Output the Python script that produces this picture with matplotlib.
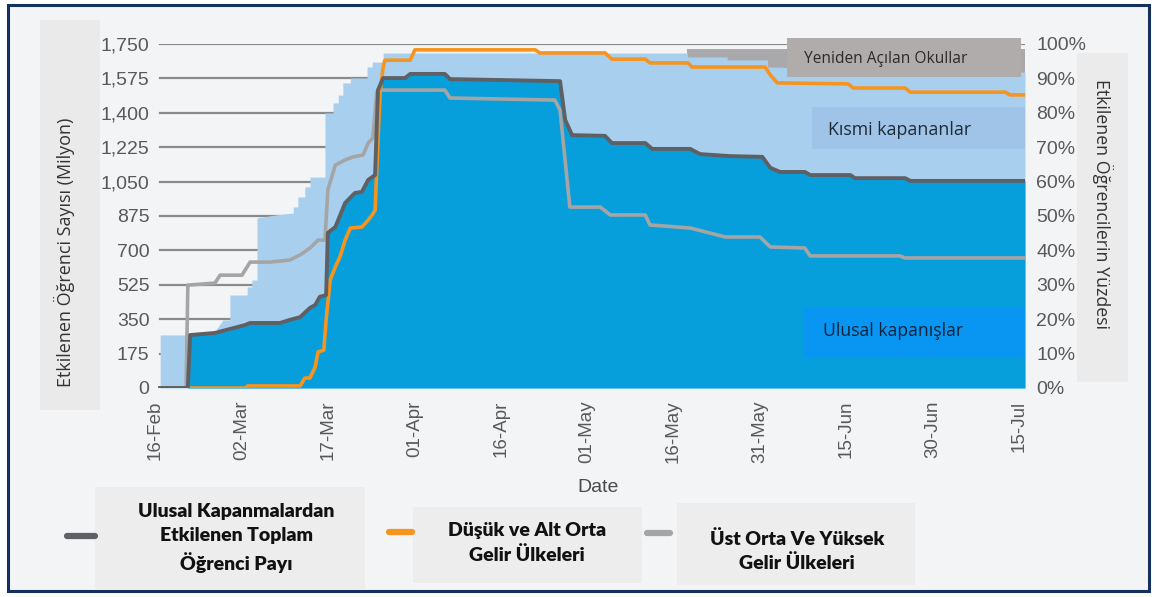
import matplotlib
matplotlib.use("Agg")
import matplotlib.pyplot as plt
from matplotlib.patches import Rectangle
from matplotlib.lines import Line2D

# ---------------- data (x = days since 16 Feb 2020) ----------------
tick_days = [0, 15, 30, 45, 60, 75, 90, 105, 120, 135, 150]
tick_labels = ["16-Feb", "02-Mar", "17-Mar", "01-Apr", "16-Apr", "01-May",
               "16-May", "31-May", "15-Jun", "30-Jun", "15-Jul"]
left_ticks = [0, 175, 350, 525, 700, 875, 1050, 1225, 1400, 1575, 1750]
right_ticks = [0, 10, 20, 30, 40, 50, 60, 70, 80, 90, 100]

# National closures: share (%) line and learners (millions) area
national_days = [0.9, 5.7, 6.1, 10.4, 15.6, 16.5, 21.7, 23.4, 25.2, 26.9, 27.8, 28.6,
                 29.7, 30.0, 31.3, 33.0, 34.7, 35.9, 37.0, 38.2, 38.7, 39.6, 43.4, 44.3,
                 50.3, 51.2, 70.3, 71.2, 72.4, 78.1, 79.3, 85.1, 86.3, 92.9, 94.6, 99.8,
                 105.4, 106.8, 108.5, 112.8, 113.7, 120.7, 121.5, 130.2, 131.1, 151.0]
national_pct = [0, 0, 15.4, 16.0, 18.3, 18.9, 18.9, 19.8, 20.6, 23.3, 24.1, 26.5,
                27.0, 45.1, 46.8, 53.8, 56.7, 57.0, 60.5, 61.9, 86.6, 90.1, 90.1, 91.3,
                91.3, 89.8, 89.2, 77.9, 73.5, 73.3, 71.2, 71.2, 69.5, 69.5, 68.0, 67.4,
                67.2, 64.0, 62.8, 62.8, 61.9, 61.9, 61.0, 61.0, 60.2, 60.2]
national_m = [0, 0, 270, 280, 320, 331, 331, 347, 361, 408, 422, 464,
              473, 789, 819, 942, 992, 998, 1059, 1083, 1516, 1577, 1577, 1598,
              1598, 1572, 1561, 1363, 1286, 1283, 1246, 1246, 1216, 1216, 1190, 1180,
              1176, 1120, 1099, 1099, 1083, 1083, 1068, 1068, 1054, 1054]

# National + partial (localized) closures, learners (millions)
total_days = [0.9, 5.7, 6.1, 10.4, 10.8, 11.8, 13.0, 13.0, 16.0, 16.0,
              16.8, 16.8, 17.7, 17.7, 20.8, 24.0, 24.0, 24.8, 24.8, 26.0,
              26.0, 26.9, 26.9, 29.5, 29.5, 30.9, 30.9, 31.8, 31.8, 32.6,
              32.6, 33.9, 33.9, 36.8, 36.8, 37.7, 37.7, 39.6, 39.6, 92.4,
              92.4, 99.3, 99.3, 106.3, 106.3, 151.0]
total_m = [270, 270, 270, 280, 305, 346, 346, 473, 473, 514,
           514, 549, 549, 865, 880, 890, 921, 921, 972, 972,
           1023, 1023, 1073, 1073, 1399, 1399, 1450, 1450, 1490, 1490,
           1552, 1552, 1577, 1577, 1633, 1633, 1658, 1658, 1704, 1704,
           1684, 1684, 1669, 1669, 1633, 1607]

# Top including reopened schools (millions)
reopen_days = [92.4, 151.0]
reopen_top_m = [1725, 1725]

# Low & lower-middle income countries (%)
low_days = [0.9, 15.6, 16.1, 25.2, 26.0, 26.9, 27.8, 28.3, 29.3, 29.7, 30.4, 31.3,
            32.1, 33.0, 33.9, 35.9, 37.0, 37.7, 38.2, 38.7, 39.1, 39.6, 39.9, 44.3,
            45.1, 66.0, 66.8, 78.1, 79.3, 85.1, 85.9, 92.5, 93.2, 105.9, 106.8, 108.0,
            120.3, 121.2, 130.2, 131.1, 147.6, 148.4, 151.0]
low_pct = [0, 0, 0.6, 0.6, 2.9, 2.9, 6.1, 10.5, 11.0, 19.8, 31.4, 35.2,
           38.1, 43.0, 46.5, 46.8, 48.8, 50.3, 51.7, 72.1, 86.6, 93.3, 95.3, 95.3,
           98.3, 98.3, 97.4, 97.4, 95.6, 95.6, 94.5, 94.5, 93.3, 93.3, 91.0, 88.7,
           88.4, 87.2, 87.2, 86.0, 86.0, 85.2, 85.2]

# Upper-middle & high income countries (%)
high_days = [0.9, 5.4, 5.7, 10.4, 11.3, 15.1, 16.5, 20.0, 23.4, 25.2, 26.9, 28.3,
             29.5, 30.0, 31.3, 33.0, 34.4, 36.1, 37.0, 37.8, 38.5, 39.1, 50.3, 51.2,
             69.4, 70.3, 72.0, 77.3, 79.0, 85.1, 85.9, 92.9, 99.0, 105.0, 106.8, 112.8,
             113.7, 129.3, 130.2, 151.0]
high_pct = [0, 0, 29.9, 30.5, 32.8, 32.8, 36.6, 36.6, 37.2, 38.7, 40.7, 43.0,
            43.0, 57.6, 64.8, 66.3, 67.2, 67.7, 71.2, 72.7, 86.0, 86.6, 86.6, 84.3,
            83.7, 80.8, 52.6, 52.6, 50.3, 50.3, 47.4, 46.5, 43.9, 43.9, 41.0, 40.7,
            38.4, 38.4, 37.8, 37.8]

# ---------------- figure ----------------
W, H = 1157, 597
fig = plt.figure(figsize=(W / 100, H / 100), dpi=100, facecolor="white")


def fx(x):
    return x / W


def fy(y):
    return 1 - y / H


def box(x0, y0, x1, y1, color, z=1, **kw):
    r = Rectangle((fx(x0), fy(y1)), fx(x1) - fx(x0), fy(y0) - fy(y1),
                  transform=fig.transFigure, facecolor=color, zorder=z, **kw)
    fig.add_artist(r)


# frame and label backgrounds
box(8, 5, 1149, 591, "#f3f4f6", z=-10, edgecolor="#13305e", lw=2.2)
box(40, 20, 100, 410, "#eaeaea", z=-9, edgecolor="none")
box(1077, 53, 1128, 382, "#ebebeb", z=-9, edgecolor="none")

XMIN, XMAX = 0.0, 151.0
ax = fig.add_axes([fx(155), fy(388), fx(1025) - fx(155), fy(44) - fy(388)])
ax.set_facecolor("none")
ax.set_xlim(XMIN, XMAX)
ax.set_ylim(0, 1750)
for s in ax.spines.values():
    s.set_visible(False)
ax.set_yticks(left_ticks)
ax.set_yticklabels([f"{v:,}" for v in left_ticks])
ax.set_xticks(tick_days)
ax.set_xticklabels(tick_labels, rotation=90)
ax.tick_params(axis="y", length=0, pad=4, labelsize=14, labelcolor="#595959")
ax.tick_params(axis="x", length=0, pad=9, labelsize=13.5, labelcolor="#595959")
for lab in ax.get_xticklabels() + ax.get_yticklabels():
    lab.set_fontfamily("Liberation Sans")

# horizontal grid lines (start at the plot's left edge)
for v in left_ticks:
    ax.plot([0.87, XMAX], [v, v], color="#8a8a8a", lw=1.6, zorder=0.5)

# areas (layered)
ax.fill_between(reopen_days, 0, reopen_top_m, color="#a9a9ab", lw=0, zorder=1)
ax.fill_between(total_days, 0, total_m, color="#a9cfef", lw=0, zorder=2)
ax.fill_between(national_days, 0, national_m, color="#079fdb", lw=0, zorder=3)

ax2 = ax.twinx()
ax2.set_ylim(0, 100)
ax2.set_xlim(XMIN, XMAX)
for s in ax2.spines.values():
    s.set_visible(False)
ax2.set_yticks(right_ticks)
ax2.set_yticklabels([f"{v}%" for v in right_ticks])
ax2.tick_params(axis="y", length=0, pad=8, labelsize=14, labelcolor="#595959")
for lab in ax2.get_yticklabels():
    lab.set_fontfamily("Liberation Sans")

ax2.plot(high_days, high_pct, color="#a5a5a5", lw=2.6, solid_joinstyle="round", zorder=3)
ax2.plot(low_days, low_pct, color="#f7941e", lw=2.6, solid_joinstyle="round", zorder=4)
ax2.plot(national_days, national_pct, color="#5e6063", lw=2.8, solid_joinstyle="round", zorder=5)

# axis titles
fig.text(fx(64), fy(252), "Etkilenen Öğrenci Sayısı (Milyon)", rotation=90,
         ha="center", va="center", fontsize=13, color="#333333", family="Open Sans")
fig.text(fx(1103), fy(204), "Etkilenen Öğrencilerin Yüzdesi", rotation=270,
         ha="center", va="center", fontsize=12.8, color="#333333", family="Open Sans")
fig.text(fx(598), fy(488), "Date", ha="center", va="center", fontsize=14,
         color="#4a4a4a", family="Liberation Sans")

# in-chart annotation boxes
box(787, 38, 1021, 77, "#b0acab", z=5)
fig.text(fx(886), fy(59), "Yeniden Açılan Okullar", ha="center", va="center",
         fontsize=11.2, color="#2b2b2b", family="Open Sans", zorder=6)
box(812, 107, 1025, 149, "#9fc4e7", z=5)
fig.text(fx(900), fy(130), "Kısmi kapananlar", ha="center", va="center",
         fontsize=12.8, color="#1f2a38", family="Open Sans", zorder=6)
box(804, 308, 1025, 357, "#0896f2", z=5)
fig.text(fx(893), fy(331), "Ulusal kapanışlar", ha="center", va="center",
         fontsize=12.7, color="#10233a", family="Open Sans", zorder=6)

# legend
box(95, 487, 365, 590, "#ededed", z=2)
box(413, 507, 642, 583, "#ededed", z=2)
box(677, 503, 915, 585, "#ededed", z=2)
for (x0, x1, y, c) in [(67, 95, 536, "#5e6063"), (389, 412, 532, "#f7941e"),
                       (647, 670, 533, "#a5a5a5")]:
    fig.add_artist(Line2D([fx(x0), fx(x1)], [fy(y), fy(y)], transform=fig.transFigure,
                          color=c, lw=4.5, solid_capstyle="round", zorder=3))
leg_kw = dict(ha="center", va="center", fontsize=14, fontweight="heavy", family="Lato",
              linespacing=1.45, color="#111111", zorder=4)
fig.text(fx(236), fy(538), "Ulusal Kapanmalardan\nEtkilenen Toplam\nÖğrenci Payı", **leg_kw)
fig.text(fx(527), fy(543), "Düşük ve Alt Orta\nGelir Ülkeleri", **leg_kw)
fig.text(fx(797), fy(551), "Üst Orta Ve Yüksek\nGelir Ülkeleri", **leg_kw)

fig.savefig("out.png", dpi=100, facecolor="white")
